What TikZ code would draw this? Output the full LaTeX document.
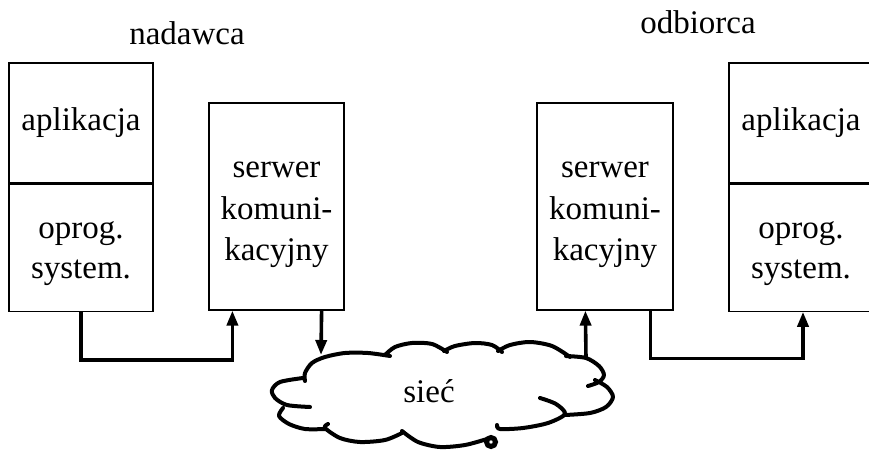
\documentclass[tikz,border=0pt]{standalone}
\usepackage{fontspec}
\setmainfont{Liberation Serif}
\usetikzlibrary{arrows.meta, positioning, calc}
\tikzset{
    box/.style={
        rectangle,
        draw=black,
        line width=0.6pt,
        align=center,
        inner sep=0pt,
        minimum width=72pt,
    },
    syspart/.style={
        box,
        minimum height=63.5pt,
        text height=34.1pt,
        font=\fontsize{16.5}{20}\selectfont,
    },
    server/.style={
        box,
        minimum height=103.5pt,
        text height=57.6pt,
        font=\fontsize{16.5}{20.75}\selectfont,
    },
    link/.style={
        ->,
        line width=1.8pt,
    },
    cloudline/.style={
        line width=2pt,
        line cap=round,
        line join=round,
    },
}

\begin{document}
\begin{tikzpicture}[x=0.5pt, y=0.5pt, >={Triangle[length=7.5pt,width=5.5pt]}, font=\fontsize{16.5}{20.5}\selectfont]
      \useasboundingbox (0,0) rectangle (869,451);

      % nadawca
      \node [box, minimum height=60pt] (appL) at (81,328) {aplikacja};
      \node [syspart, below=0pt of appL] (sysL) {oprog.\\system.};
      \node [server, minimum width=67.5pt] (servL) at (276.5,244.5) {serwer\\komuni-\\kacyjny};
      \node [anchor=base] (nad) at (187,406) {nadawca};

      % odbiorca
      \node [server, minimum width=68pt] (servR) at (605,244.5) {serwer\\komuni-\\kacyjny};
      \node [box, minimum height=60pt] (appR) at (801,328) {aplikacja};
      \node [syspart, below=0pt of appR] (sysR) {oprog.\\system.};
      \node [anchor=base] (odb) at (698,417) {odbiorca};

      % siec
      \draw [cloudline]
        plot [smooth] coordinates {(305,70) (305,78) (312,88) (325,94) (345,98) (368,98) (390,95)}
        plot [smooth] coordinates {(385,96) (395,104) (412,108) (432,107) (447,99)}
        plot [smooth] coordinates {(444,100) (455,105) (475,108) (492,106) (502,99)}
        plot [smooth] coordinates {(498,100) (510,106) (530,109) (552,105) (570,94)}
        plot [smooth] coordinates {(566,95) (586,93) (599,85) (604,76) (599,69) (588,65)}
        plot [smooth] coordinates {(595,71) (607,64) (613,54) (606,44) (590,38) (565,36)}
        plot [smooth] coordinates {(540,53) (556,47) (565,37) (548,28) (523,23) (500,22) (497,26)}
        plot [smooth] coordinates {(487,12) (465,6) (440,4) (418,9) (402,20)}
        plot [smooth] coordinates {(402,18) (385,11) (360,9) (340,13) (325,23) (328,27)}
        plot [smooth] coordinates {(325,22) (305,22) (289,27) (279,35) (283,43)}
        plot [smooth] coordinates {(310,44) (287,46) (275,53) (272,61) (280,69) (303,73)};
      \draw [line width=2.5pt] (491,9) circle (4.5);
      \node [anchor=base] (net) at (429,49) {sieć};
      \coordinate (netL) at (321,96);
      \coordinate (netR) at (586,93);

      \draw [link] (sysL.south) -- ++(0,-48) -| ([xshift=12pt]servL.south west);
      \draw [link] ([xshift=-11.5pt]servL.south east) -- (netL);
      \draw [link] (netR) -- ([xshift=24.5pt]servR.south west);
      \draw [link] ([xshift=-11.5pt]servR.south east) -- ++(0,-48) -| ([xshift=1pt]sysR.south);
\end{tikzpicture}
\end{document}
